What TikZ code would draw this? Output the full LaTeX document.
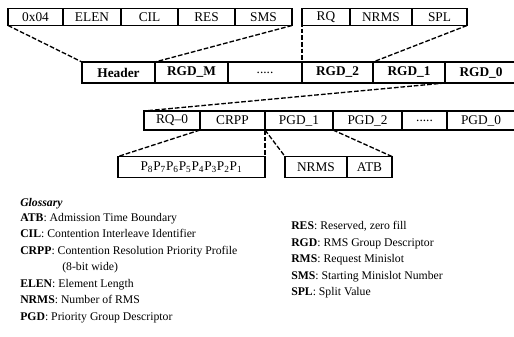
\documentclass[tikz,border=0pt]{standalone}
\usepackage{fontspec}
\setmainfont{Liberation Serif}
\usetikzlibrary{positioning}

\tikzset{
  cell/.style={draw,line width=1pt,inner sep=0pt,outer sep=0pt,
    font=\fontsize{10}{11}\selectfont},
  bcell/.style={cell,font=\fontsize{10}{11}\selectfont\bfseries},
  wd/.style={minimum width=#1*0.75pt},
  ht/.style={minimum height=#1*0.75pt},
  link/.style={line width=1pt,dash pattern=on 3.5pt off 1.5pt},
  gloss/.style={anchor=base west,inner sep=0pt,font=\fontsize{8.8}{10}\selectfont}
}

\begin{document}
\begin{tikzpicture}[x=0.75pt,y=-0.75pt]
\useasboundingbox (0,0) rectangle (514,336);

% RGD header fields
\node[cell,wd=55,ht=17,anchor=north west] (hid) at (8,8.5) {0x04};
\node[cell,wd=58,ht=17,right=0pt of hid] (elen) {ELEN};
\node[cell,wd=57,ht=17,right=0pt of elen] (cil) {CIL};
\node[cell,wd=57,ht=17,right=0pt of cil] (res) {RES};
\node[cell,wd=57,ht=17,right=0pt of res] (sms) {SMS};

% RGD fields
\node[cell,wd=48,ht=17,anchor=north west] (rq) at (302,8.5) {RQ};
\node[cell,wd=62,ht=17,right=0pt of rq] (nrms) {NRMS};
\node[cell,wd=55,ht=17,right=0pt of nrms] (spl) {SPL};

% element
\node[bcell,wd=73,ht=21,anchor=north west] (hdr) at (82,62) {Header};
\node[bcell,wd=73,ht=21,right=0pt of hdr] (rgdm) {RGD\_M};
\node[cell,wd=74,ht=21,right=0pt of rgdm] (rgdx) {.....};
\node[bcell,wd=71,ht=21,right=0pt of rgdx] (rgd2) {RGD\_2};
\node[bcell,wd=72,ht=21,right=0pt of rgd2] (rgd1) {RGD\_1};
\node[bcell,wd=72,ht=21,right=0pt of rgd1] (rgd0) {RGD\_0};

% RGD with priority groups
\node[cell,wd=56,ht=19,anchor=north west] (rq0) at (144,111) {RQ--0};
\node[cell,wd=65,ht=19,right=0pt of rq0] (crpp) {CRPP};
\node[cell,wd=68,ht=19,right=0pt of crpp] (pgd1) {PGD\_1};
\node[cell,wd=69,ht=19,right=0pt of pgd1] (pgd2) {PGD\_2};
\node[cell,wd=45,ht=19,right=0pt of pgd2] (pgdx) {.....};
\node[cell,wd=68,ht=19,right=0pt of pgdx] (pgd0) {PGD\_0};

% CRPP bits and PGD fields
\node[cell,wd=147,ht=21,anchor=north west] (pbits) at (118,156.5)
  {P\textsubscript{8}P\textsubscript{7}P\textsubscript{6}P\textsubscript{5}P\textsubscript{4}P\textsubscript{3}P\textsubscript{2}P\textsubscript{1}};
\node[cell,wd=62,ht=21,anchor=north west] (pnrms) at (285,156.5) {NRMS};
\node[cell,wd=45,ht=21,right=0pt of pnrms] (atb) {ATB};

% expansions
\draw[link] (hid.south west) -- (hdr.north west);
\draw[link] (sms.south east) -- (hdr.north east);
\draw[link] (rq.north west) -- (rgd2.north west);
\draw[link] (spl.south east) -- (rgd2.north east);
\draw[link] (rgd1.south east) -- (rq0.north west);
\draw[link] (rgd0.south east) -- (pgd0.north east);
\draw[link] (crpp.south west) -- (pbits.north west);
\draw[link] (crpp.south east) -- (pbits.north east);
\draw[link] (pgd1.south west) -- (pnrms.north west);
\draw[link] (pgd1.south east) -- (atb.north east);

% glossary
\node[gloss] (gtitle) at (20,206.5) {\textbf{\itshape Glossary}};
\node[gloss] (gatb) at (20,221) {\textbf{ATB}: Admission Time Boundary};
\node[gloss] (gcil) at (20,237.5) {\textbf{CIL}: Contention Interleave Identifier};
\node[gloss] (gcrpp) at (20,254) {\textbf{CRPP}: Contention Resolution Priority Profile};
\node[gloss] (gwide) at (62,270.5) {(8-bit wide)};
\node[gloss] (gelen) at (20,287) {\textbf{ELEN}: Element Length};
\node[gloss] (gnrms) at (20,303.5) {\textbf{NRMS}: Number of RMS};
\node[gloss] (gpgd) at (20,320) {\textbf{PGD}: Priority Group Descriptor};
\node[gloss] (gres) at (291,229.5) {\textbf{RES}: Reserved, zero fill};
\node[gloss] (grgd) at (291,246) {\textbf{RGD}: RMS Group Descriptor};
\node[gloss] (grms) at (291,262.5) {\textbf{RMS}: Request Minislot};
\node[gloss] (gsms) at (291,279) {\textbf{SMS}: Starting Minislot Number};
\node[gloss] (gspl) at (291,295.5) {\textbf{SPL}: Split Value};
\end{tikzpicture}
\end{document}
